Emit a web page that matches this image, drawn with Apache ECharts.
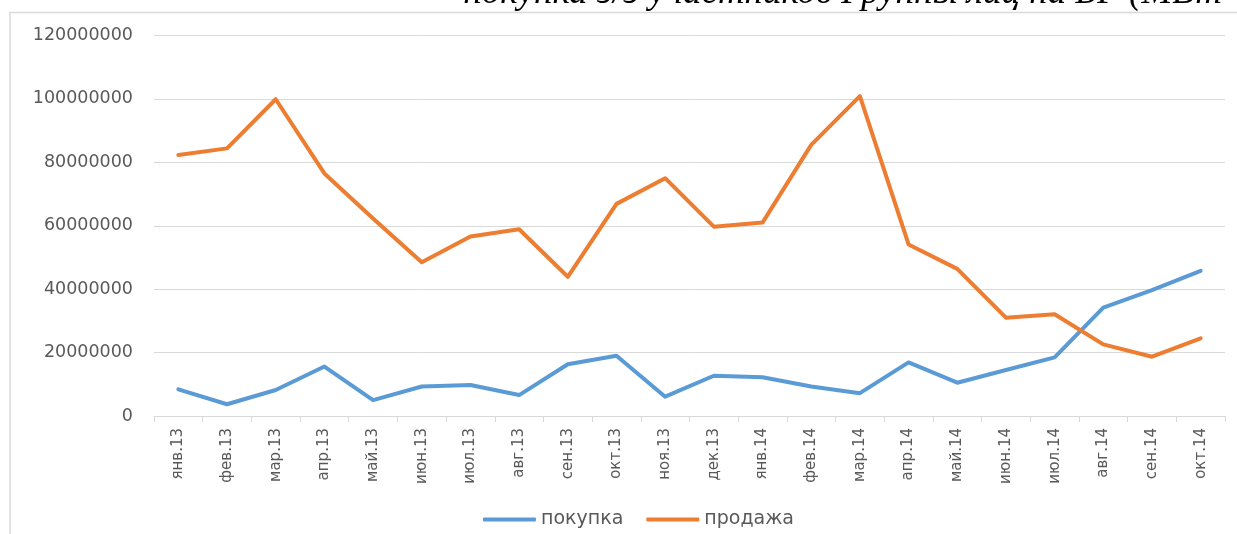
<!DOCTYPE html>
<html>
<head>
<meta charset="utf-8">
<script src="https://cdn.jsdelivr.net/npm/echarts@6/dist/echarts.min.js"></script>
<style>
html,body{margin:0;padding:0;background:#fff;}
#c{width:1237px;height:534px;}
</style>
</head>
<body>
<div id="c"></div>
<script>
const categories = ['янв.13','фев.13','мар.13','апр.13','май.13','июн.13','июл.13','авг.13','сен.13','окт.13','ноя.13','дек.13',
  'янв.14','фев.14','мар.14','апр.14','май.14','июн.14','июл.14','авг.14','сен.14','окт.14'];
const purchase = [8400000,3700000,8200000,15600000,5000000,9300000,9800000,6600000,16300000,19000000,6100000,12700000,
  12200000,9300000,7200000,16900000,10500000,14500000,18500000,34200000,39700000,45800000];
const sale = [82300000,84400000,99900000,76500000,62300000,48500000,56600000,58900000,43900000,66900000,75000000,59700000,
  61000000,85500000,100900000,54100000,46400000,31000000,32100000,22600000,18700000,24500000];
const seriesNames = ['покупка','продажа'];
const yTicks = {min:0, max:120000000, interval:20000000};
const titleText = 'покупка э/э участников Группы лиц на БР (МВт';

const chart = echarts.init(document.getElementById('c'), null, {renderer:'canvas'});
chart.setOption({
  animation:false,
  backgroundColor:'#ffffff',
  graphic:[
    {type:'polyline', shape:{points:[[10,534],[10,12.5],[1237,12.5]]}, style:{stroke:'#dadada', lineWidth:1.5, fill:null}, silent:true},
    {type:'text', right:15, top:-25, style:{text:titleText, font:'italic 37px "Liberation Serif", serif', fill:'#000'}}
  ],
  grid:{left:154, right:12, top:35.5, bottom:118, containLabel:false, outerBoundsMode:'none'},
  legend:{
    data:seriesNames, left:478, top:505, icon:'roundRect', itemWidth:53, itemHeight:4, itemGap:23,
    textStyle:{fontFamily:'DejaVu Sans', fontSize:19, color:'#595959'}
  },
  xAxis:{
    type:'category', data:categories, boundaryGap:true,
    axisLine:{lineStyle:{color:'#d9d9d9', width:1}},
    axisTick:{show:true, length:6, lineStyle:{color:'#d9d9d9'}},
    axisLabel:{interval:0, rotate:90, margin:12, fontFamily:'DejaVu Sans', fontSize:15, color:'#595959'}
  },
  yAxis:{
    type:'value', min:yTicks.min, max:yTicks.max, interval:yTicks.interval,
    axisLine:{show:false}, axisTick:{show:false},
    splitLine:{lineStyle:{color:'#d9d9d9', width:1}},
    axisLabel:{margin:21, fontFamily:'DejaVu Sans', fontSize:17.5, color:'#595959', formatter:v=>String(v)}
  },
  series:[
    {name:seriesNames[0], type:'line', data:purchase, symbol:'none', color:'#5B9BD5',
     lineStyle:{width:4, color:'#5B9BD5', cap:'round', join:'round'}},
    {name:seriesNames[1], type:'line', data:sale, symbol:'none', color:'#ED7D31',
     lineStyle:{width:4, color:'#ED7D31', cap:'round', join:'round'}}
  ]
});
</script>
</body>
</html>
